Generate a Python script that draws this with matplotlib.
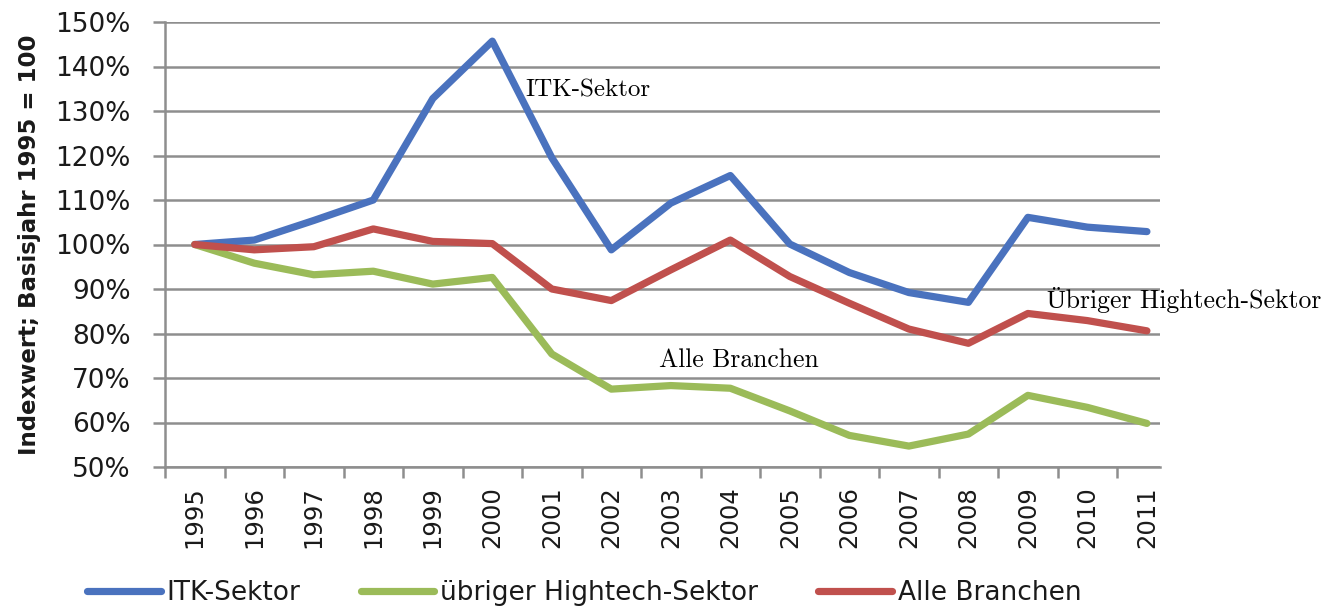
import numpy as np
import matplotlib
matplotlib.use("Agg")
import matplotlib.pyplot as plt
from matplotlib.ticker import FixedLocator, PercentFormatter

# data (index, 1995 = 100)
years = [str(y) for y in range(1995, 2012)]
itk = [100, 101.0, 105.4, 110.0, 132.8, 145.7, 119.5, 98.8, 109.3, 115.5,
       100.1, 93.7, 89.2, 87.0, 106.1, 103.9, 102.9]
hightech = [100, 95.8, 93.2, 94.0, 91.1, 92.6, 75.4, 67.5, 68.3, 67.7,
            62.6, 57.1, 54.7, 57.4, 66.1, 63.4, 59.8]
alle = [100, 98.8, 99.5, 103.5, 100.7, 100.2, 90.0, 87.4, 94.3, 101.0,
        92.8, 86.8, 81.0, 77.8, 84.5, 82.9, 80.6]

series = [("ITK-Sektor", itk, "#4a72be"),
          ("übriger Hightech-Sektor", hightech, "#9bbb59"),
          ("Alle Branchen", alle, "#c0504d")]

plt.rcParams['font.family'] = ['DejaVu Sans']
grid_col = "#8e8e8e"
text_col = "#1a1a1a"

fig = plt.figure(figsize=(13.4, 6.11), dpi=100)
ax = fig.add_axes([165 / 1340, 1 - 467 / 611, (1160 - 165) / 1340, (467 - 22) / 611])

x = np.arange(len(years))
for name, vals, col in series:
    ax.plot(x, vals, color=col, lw=5.2, label=name, solid_capstyle='round',
            solid_joinstyle='round', zorder=3)

ax.set_ylim(50, 150)
ax.set_xlim(-0.5, 16.22)
ax.set_yticks(np.arange(50, 151, 10))
ax.yaxis.set_major_formatter(PercentFormatter(decimals=0))
ax.grid(axis='y', color=grid_col, lw=1.8, zorder=1)
ax.set_axisbelow(True)

ax.set_xticks(x)
ax.set_xticklabels(years, rotation=90)
ax.xaxis.set_minor_locator(FixedLocator(np.arange(-0.5, 16.0, 1)))
ax.tick_params(axis='x', which='major', length=0, pad=14, labelsize=17.5, labelcolor=text_col)
ax.tick_params(axis='x', which='minor', length=8, width=1.8, color=grid_col, direction='out')
ax.tick_params(axis='y', length=8.5, width=1.8, color=grid_col, pad=16,
               labelsize=19, labelcolor=text_col)

for side in ['top', 'right']:
    ax.spines[side].set_visible(False)
for side in ['left', 'bottom']:
    ax.spines[side].set_color(grid_col)
    ax.spines[side].set_linewidth(1.8)

ax.set_ylabel("Indexwert; Basisjahr 1995 = 100", fontsize=16.5, fontweight='bold',
              color=text_col)
ax.yaxis.set_label_coords(-0.125, 0.5)

# in-chart labels (serif, as in the source)
serif = ['cmr10', 'Liberation Serif']
fig.text(525 / 1340, 1 - 90 / 611, "ITK-Sektor", family=serif, fontsize=18,
         va='center', ha='left')
fig.text(1047 / 1340, 1 - 300 / 611, "Übriger Hightech-Sektor", family=serif,
         fontsize=18.5, va='center', ha='left')
fig.text(659 / 1340, 1 - 360 / 611, "Alle Branchen", family=serif, fontsize=18.5,
         va='center', ha='left')

fig.legend(loc='center', bbox_to_anchor=(584 / 1340, 1 - 593 / 611), ncol=3,
           frameon=False, fontsize=19, handlelength=2.8, handletextpad=0.2,
           columnspacing=2.3, labelcolor=text_col)

fig.savefig("out.png", dpi=100)
